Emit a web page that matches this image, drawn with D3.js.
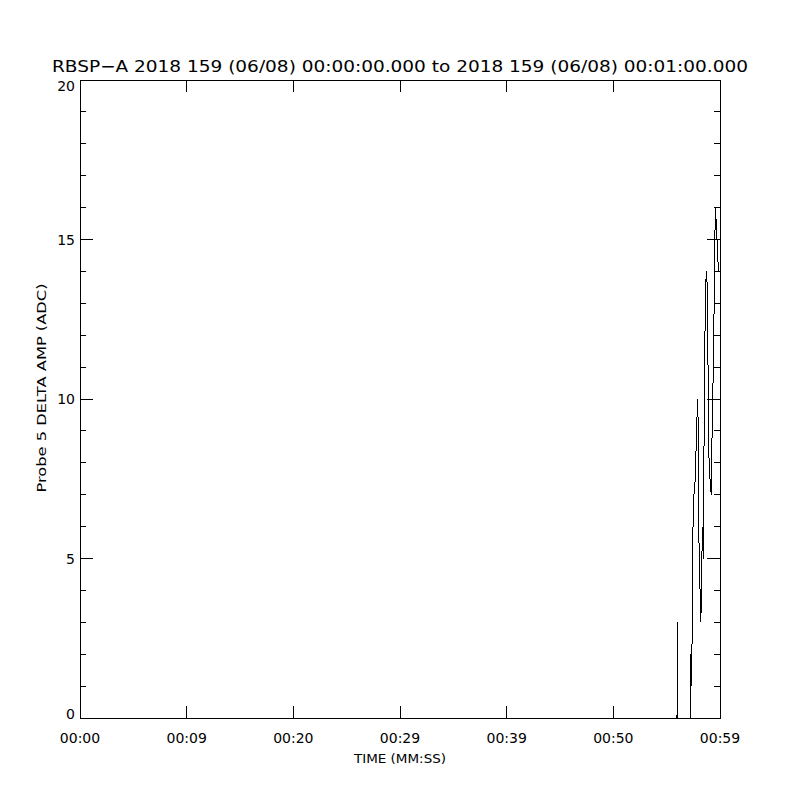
<!DOCTYPE html>
<html><head><meta charset="utf-8">
<script src="https://cdn.jsdelivr.net/npm/d3@7"></script>
<style>body{margin:0;background:#fff}svg{display:block}</style>
</head><body><svg id="c" width="800" height="800"></svg>
<script>
const titleText = "RBSP\u2212A 2018 159 (06/08) 00:00:00.000 to 2018 159 (06/08) 00:01:00.000";
const xTitle = "TIME (MM:SS)";
const yTitle = "Probe 5 DELTA AMP (ADC)";
const xTickValues = [0, 10, 20, 30, 40, 50, 60];
const xTickLabels = ["00:00", "00:09", "00:20", "00:29", "00:39", "00:50", "00:59"];
const yMajorTicks = [0, 5, 10, 15, 20];
const yMinorTicks = [1,2,3,4,6,7,8,9,11,12,13,14,16,17,18,19];
const times = [0, 55.97, 56.01, 56.06, 57.19, 57.22, 57.28, 57.33, 57.40, 57.47, 57.56, 57.66, 57.80, 57.89, 57.98, 58.03, 58.13, 58.20, 58.27, 58.34, 58.43, 58.55, 58.64, 58.72, 58.81, 58.86, 58.92, 59.06, 59.18, 59.30, 59.39, 59.48, 59.56, 59.65, 59.77, 59.86, 60.0];
const amps  = [0, 0, 3, 0, 0, 2, 1.8, 1, 3, 6, 7, 7.4, 8.9, 10, 9, 5.5, 4, 3, 4, 6, 5, 10.9, 13.4, 14, 13.5, 12, 8.5, 7.5, 7, 10, 11, 14, 16, 15.5, 14.6, 14, 14];

const svg = d3.select("#c");
const x = d3.scaleLinear().domain([0, 60]).range([80, 720]);
const y = d3.scaleLinear().domain([0, 20]).range([718, 80]);
const font = "DejaVu Sans, sans-serif";

const pts = times.map((t, i) => [t, amps[i]]);
svg.append("path").datum(pts)
  .attr("d", d3.line().x(d => x(d[0])).y(d => y(d[1])))
  .attr("fill", "none").attr("stroke", "#000").attr("stroke-width", 1)
  .attr("shape-rendering", "crispEdges");

const g = svg.append("g").attr("stroke", "#000").attr("stroke-width", 1).attr("shape-rendering", "crispEdges");
g.append("rect").attr("x", 80).attr("y", 80).attr("width", 640).attr("height", 638).attr("fill", "none");
xTickValues.forEach(v => {
  g.append("line").attr("x1", x(v)).attr("x2", x(v)).attr("y1", 718).attr("y2", 706);
  g.append("line").attr("x1", x(v)).attr("x2", x(v)).attr("y1", 80).attr("y2", 92);
});
yMajorTicks.forEach(v => {
  g.append("line").attr("x1", 80).attr("x2", 93).attr("y1", y(v)).attr("y2", y(v));
  g.append("line").attr("x1", 707).attr("x2", 720).attr("y1", y(v)).attr("y2", y(v));
});
yMinorTicks.forEach(v => {
  g.append("line").attr("x1", 80).attr("x2", 86).attr("y1", y(v)).attr("y2", y(v));
  g.append("line").attr("x1", 714).attr("x2", 720).attr("y1", y(v)).attr("y2", y(v));
});

svg.append("text").attr("x", 400).attr("y", 72).attr("text-anchor", "middle")
  .attr("font-family", font).attr("font-size", 16).attr("textLength", 696).attr("lengthAdjust", "spacingAndGlyphs").text(titleText);
xTickValues.forEach((v, i) => {
  svg.append("text").attr("x", x(v)).attr("y", 743).attr("text-anchor", "middle")
    .attr("font-family", font).attr("font-size", 14).text(xTickLabels[i]);
});
yMajorTicks.forEach(v => {
  let yy = y(v) + 5;
  if (v === 20) yy = y(v) + 11;
  if (v === 0) yy = y(v) + 1;
  svg.append("text").attr("x", 75).attr("y", yy).attr("text-anchor", "end")
    .attr("font-family", font).attr("font-size", 14).text(d3.format("d")(v));
});
svg.append("text").attr("x", 400).attr("y", 763).attr("text-anchor", "middle")
  .attr("font-family", font).attr("font-size", 12).attr("textLength", 92).attr("lengthAdjust", "spacingAndGlyphs").text(xTitle);
svg.append("text").attr("transform", "translate(46,388) rotate(-90)").attr("text-anchor", "middle")
  .attr("font-family", font).attr("font-size", 13).attr("textLength", 209).attr("lengthAdjust", "spacingAndGlyphs").text(yTitle);
</script></body></html>
